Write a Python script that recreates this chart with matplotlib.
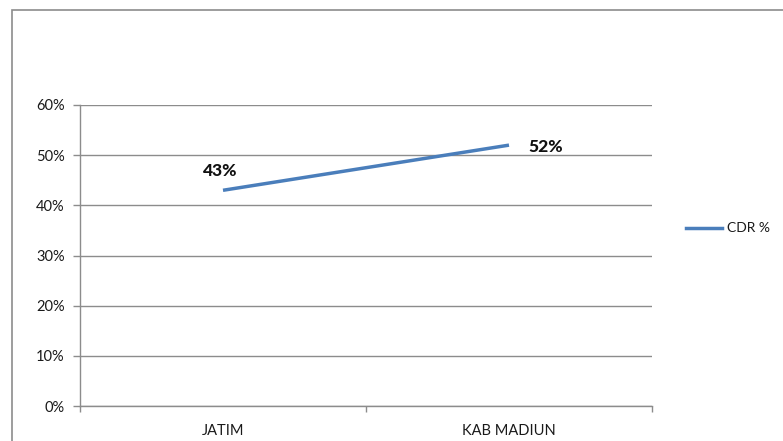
import matplotlib
matplotlib.use("Agg")
import matplotlib.pyplot as plt
from matplotlib.lines import Line2D
from matplotlib.patches import Rectangle

categories = ["JATIM", "KAB MADIUN"]
values = [0.43, 0.52]
value_labels = ["43%", "52%"]
yticks = [0, 0.1, 0.2, 0.3, 0.4, 0.5, 0.6]
ytick_labels = ["0%", "10%", "20%", "30%", "40%", "50%", "60%"]
series_name = "CDR %"

W, H = 783, 441
fig = plt.figure(figsize=(W / 100, H / 100), dpi=100)
plt.rcParams['font.family'] = ['Lato', 'DejaVu Sans']

# chart area border
fig.patches.append(Rectangle((11.5 / W, -0.1), 1.2, 1 - 9.5 / H + 0.1,
                             transform=fig.transFigure, fill=False,
                             edgecolor="#8c8c8c", linewidth=1.2))

ax = fig.add_axes([80 / W, (H - 406) / H, (652 - 80) / W, (406 - 105) / H])
x = list(range(len(categories)))
ax.plot(x, values, color="#4A7EBB", linewidth=2.5, solid_capstyle="butt")

ax.set_xlim(-0.5, len(categories) - 0.5)
ax.set_ylim(0, 0.6)
ax.set_yticks(yticks)
ax.set_yticklabels(ytick_labels, fontsize=10.5, color="#1a1a1a")
ax.yaxis.grid(True, color="#8c8c8c", linewidth=1)
ax.set_axisbelow(True)

ax.set_xticks([i - 0.5 for i in range(len(categories) + 1)])
ax.set_xticklabels([])
ax.set_xticks(x, minor=True)
ax.set_xticklabels(categories, minor=True, fontsize=10.5, color="#1a1a1a")
ax.tick_params(axis="x", which="minor", length=0, pad=13)
ax.tick_params(axis="x", which="major", length=4, color="#8c8c8c", width=1)
ax.tick_params(axis="y", length=5, color="#8c8c8c", width=1, pad=6)

for s in ["top", "right"]:
    ax.spines[s].set_visible(False)
for s in ["left", "bottom"]:
    ax.spines[s].set_color("#8c8c8c")
    ax.spines[s].set_linewidth(1)

# data labels
ax.annotate(value_labels[0], (x[0], values[0]), xytext=(-2, 14),
            textcoords="offset points", ha="center", va="center",
            fontsize=12.5, fontweight="black", color="#111111")
ax.annotate(value_labels[1], (x[1], values[1]), xytext=(26.5, -1.5),
            textcoords="offset points", ha="center", va="center",
            fontsize=12.5, fontweight="black", color="#111111")

# legend
fig.add_artist(Line2D([686 / W, 722 / W], [(H - 228) / H] * 2,
                      color="#4A7EBB", linewidth=2.5, transform=fig.transFigure))
fig.text(727 / W, (H - 228) / H, series_name, fontsize=10, va="center",
         ha="left", color="#1a1a1a")

fig.savefig("out.png", dpi=100)
